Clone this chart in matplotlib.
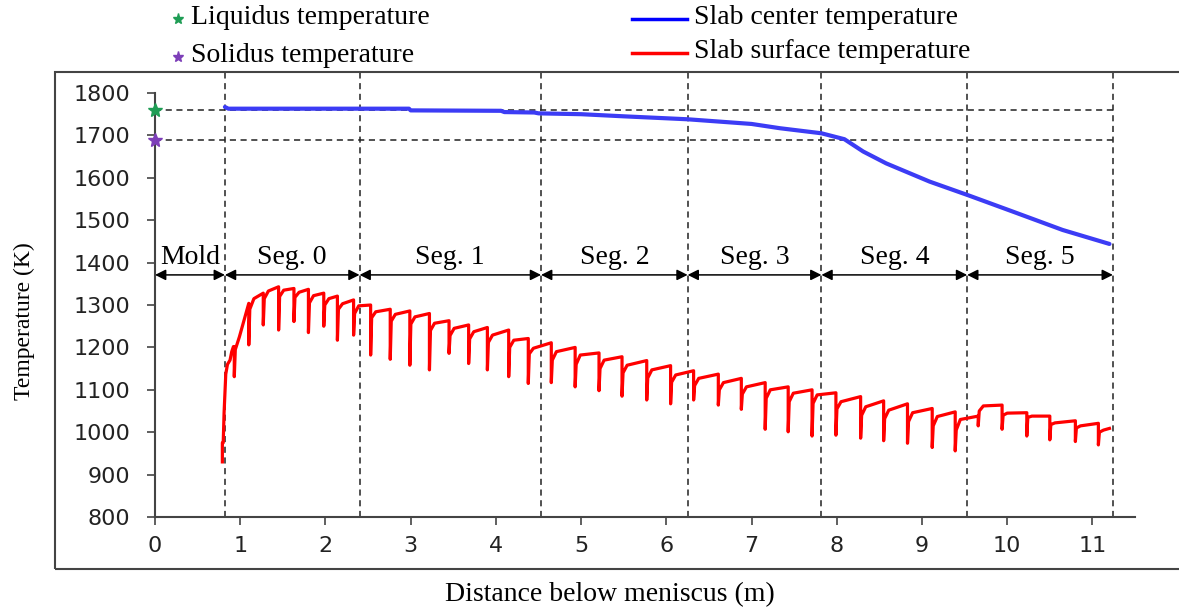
import matplotlib
matplotlib.use("Agg")
import matplotlib.pyplot as plt
from matplotlib.lines import Line2D
from matplotlib.patches import Rectangle

# segment boundaries along the strand (m) and their labels
seg_edges = [0.0, 0.82, 2.40, 4.53, 6.25, 7.82, 9.53, 11.24]
seg_names = ["Mold", "Seg. 0", "Seg. 1", "Seg. 2", "Seg. 3", "Seg. 4", "Seg. 5"]

liquidus_T = 1760
solidus_T = 1690

# slab center temperature
center_x = [0.82, 0.86, 1.5, 2.0, 2.98, 3.0, 4.06, 4.1, 4.45, 4.5, 5.0, 5.5, 6.25,
            7.0, 7.33, 7.82, 8.09, 8.31, 8.58, 9.09, 9.54, 10.07, 10.65, 11.2]
center_T = [1767, 1763, 1763, 1763, 1763, 1759, 1758, 1755, 1754, 1752, 1750, 1745, 1738,
            1727, 1717, 1705, 1691, 1662, 1634, 1591, 1559, 1520, 1477, 1444]

# slab surface temperature: mold exit part
head_x = [0.79, 0.79, 0.80, 0.81, 0.83, 0.85, 0.88, 0.90, 0.92]
head_T = [930, 975, 975, 1045, 1137, 1160, 1170, 1190, 1202]

# surface temperature at each roll: level before the roll, dip at the roll,
# rebound right after and level once the surface has reheated
roll_x = [0.93, 1.10, 1.27, 1.45, 1.63, 1.80, 1.98, 2.14, 2.33, 2.53, 2.76, 2.99,
          3.22, 3.45, 3.68, 3.90, 4.15, 4.38, 4.65, 4.93, 5.21, 5.48, 5.77, 6.05,
          6.32, 6.61, 6.88, 7.16, 7.43, 7.71, 7.99, 8.28, 8.55, 8.83, 9.12, 9.39,
          9.66, 9.94, 10.23, 10.50, 10.80, 11.07]
roll_top = [1202, 1304, 1328, 1343, 1339, 1337, 1328, 1321, 1312, 1300, 1290, 1286,
            1280, 1263, 1253, 1247, 1241, 1221, 1211, 1200, 1187, 1178, 1169, 1157,
            1145, 1137, 1127, 1117, 1107, 1100, 1093, 1084, 1074, 1067, 1056, 1048,
            1038, 1064, 1046, 1038, 1027, 1021]
roll_dip = [1131, 1206, 1253, 1241, 1261, 1235, 1250, 1217, 1229, 1182, 1172, 1158,
            1147, 1186, 1162, 1147, 1131, 1115, 1117, 1107, 1098, 1085, 1076, 1067,
            1076, 1064, 1054, 1007, 1001, 991, 993, 986, 980, 974, 964, 956,
            1015, 1007, 991, 982, 978, 970]
roll_back = [1195, 1290, 1315, 1320, 1318, 1305, 1300, 1290, 1280, 1270, 1262, 1255,
             1240, 1228, 1220, 1212, 1200, 1185, 1170, 1160, 1150, 1140, 1128, 1118,
             1110, 1100, 1090, 1080, 1072, 1068, 1055, 1040, 1032, 1025, 1015, 1005,
             1050, 1040, 1035, 1018, 1010, 1000]
roll_knee = [1225, 1315, 1333, 1335, 1330, 1322, 1315, 1303, 1298, 1284, 1278, 1272,
             1257, 1245, 1237, 1229, 1217, 1198, 1190, 1182, 1170, 1158, 1147, 1135,
             1127, 1117, 1107, 1100, 1092, 1088, 1072, 1060, 1052, 1046, 1037, 1030,
             1062, 1045, 1038, 1022, 1015, 1005]
end_x, end_T = 11.2, 1009

surf_x = list(head_x)
surf_T = list(head_T)
for xr, top, dip, back, knee in zip(roll_x, roll_top, roll_dip, roll_back, roll_knee):
    surf_x += [xr, xr, xr + 0.012, xr + 0.06]
    surf_T += [top, dip, back, knee]
surf_x.append(end_x)
surf_T.append(end_T)

plt.rcParams["font.family"] = "Liberation Serif"

W, H = 1179, 611
fig = plt.figure(figsize=(W / 100, H / 100), dpi=100)
ax = fig.add_axes([0.1315, 0.1538, 0.8312, 0.7287])

# outer frame around the plot area
fig.add_artist(Rectangle((0.0467, 0.0687), 1.0, 0.8138, transform=fig.transFigure,
                         fill=False, edgecolor="#444444", lw=1.5))

dash = (0, (4, 3))
for xe in seg_edges[1:]:
    ax.axvline(xe, color="#222222", lw=1.1, linestyle=dash)
ax.hlines([liquidus_T, solidus_T], 0, seg_edges[-1], color="#222222", lw=1.1,
          linestyle=dash)

ax.plot(center_x, center_T, color="#3c3cf5", lw=3, solid_capstyle="round")
ax.plot(surf_x, surf_T, color="#ff0000", lw=2.3)

ax.plot([0], [liquidus_T], marker="*", color="#1f9d55", ms=10, clip_on=False, zorder=5)
ax.plot([0], [solidus_T], marker="*", color="#7d3fb8", ms=10, clip_on=False, zorder=5)

# segment arrows and names
arrow_T = 1371
for i, name in enumerate(seg_names):
    x0, x1 = seg_edges[i], seg_edges[i + 1]
    ax.annotate("", xy=(x1, arrow_T), xytext=(x0, arrow_T),
                arrowprops=dict(arrowstyle="<|-|>", color="black", lw=1.1,
                                mutation_scale=16, shrinkA=0, shrinkB=0))
    ax.text((x0 + x1) / 2, 1411, name, ha="center", va="center", fontsize=20)

ax.set_xlim(0, 11.5)
ax.set_ylim(800, 1850)
ax.set_xticks(range(0, 12))
ax.set_yticks(range(800, 1801, 100))
for side in ("top", "right"):
    ax.spines[side].set_visible(False)
ax.spines["left"].set_bounds(800, 1800)
for side in ("left", "bottom"):
    ax.spines[side].set_color("#444444")
    ax.spines[side].set_linewidth(1.5)
ax.tick_params(direction="out", length=6, width=1.2, color="#444444", labelsize=16)
ax.tick_params(axis="y", pad=12)
ax.tick_params(axis="x", pad=8)
for lab in ax.get_xticklabels() + ax.get_yticklabels():
    lab.set_fontfamily("DejaVu Sans")
    lab.set_color("#222222")

fig.text(24 / W, 1 - 321 / H, "Temperature (K)", fontsize=17, rotation=90,
         ha="center", va="center")
fig.text(610 / W, 1 - 595 / H, "Distance below meniscus (m)", fontsize=20,
         ha="center", va="center")

# legend above the frame
fig.add_artist(Line2D([178 / W], [1 - 19 / H], marker="*", color="#1f9d55", ms=8,
                      transform=fig.transFigure))
fig.add_artist(Line2D([178 / W], [1 - 57 / H], marker="*", color="#7d3fb8", ms=8,
                      transform=fig.transFigure))
fig.text(191 / W, 1 - 17 / H, "Liquidus temperature", fontsize=20, va="center")
fig.text(191 / W, 1 - 55 / H, "Solidus temperature", fontsize=20, va="center")
fig.add_artist(Line2D([632 / W, 687 / W], [1 - 19 / H] * 2, color="#0000ff", lw=2.5,
                      transform=fig.transFigure))
fig.add_artist(Line2D([632 / W, 687 / W], [1 - 53 / H] * 2, color="#ff0000", lw=2.5,
                      transform=fig.transFigure))
fig.text(694 / W, 1 - 18 / H, "Slab center temperature", fontsize=20, va="center")
fig.text(694 / W, 1 - 52 / H, "Slab surface temperature", fontsize=20, va="center")

fig.savefig("out.png", dpi=100)
